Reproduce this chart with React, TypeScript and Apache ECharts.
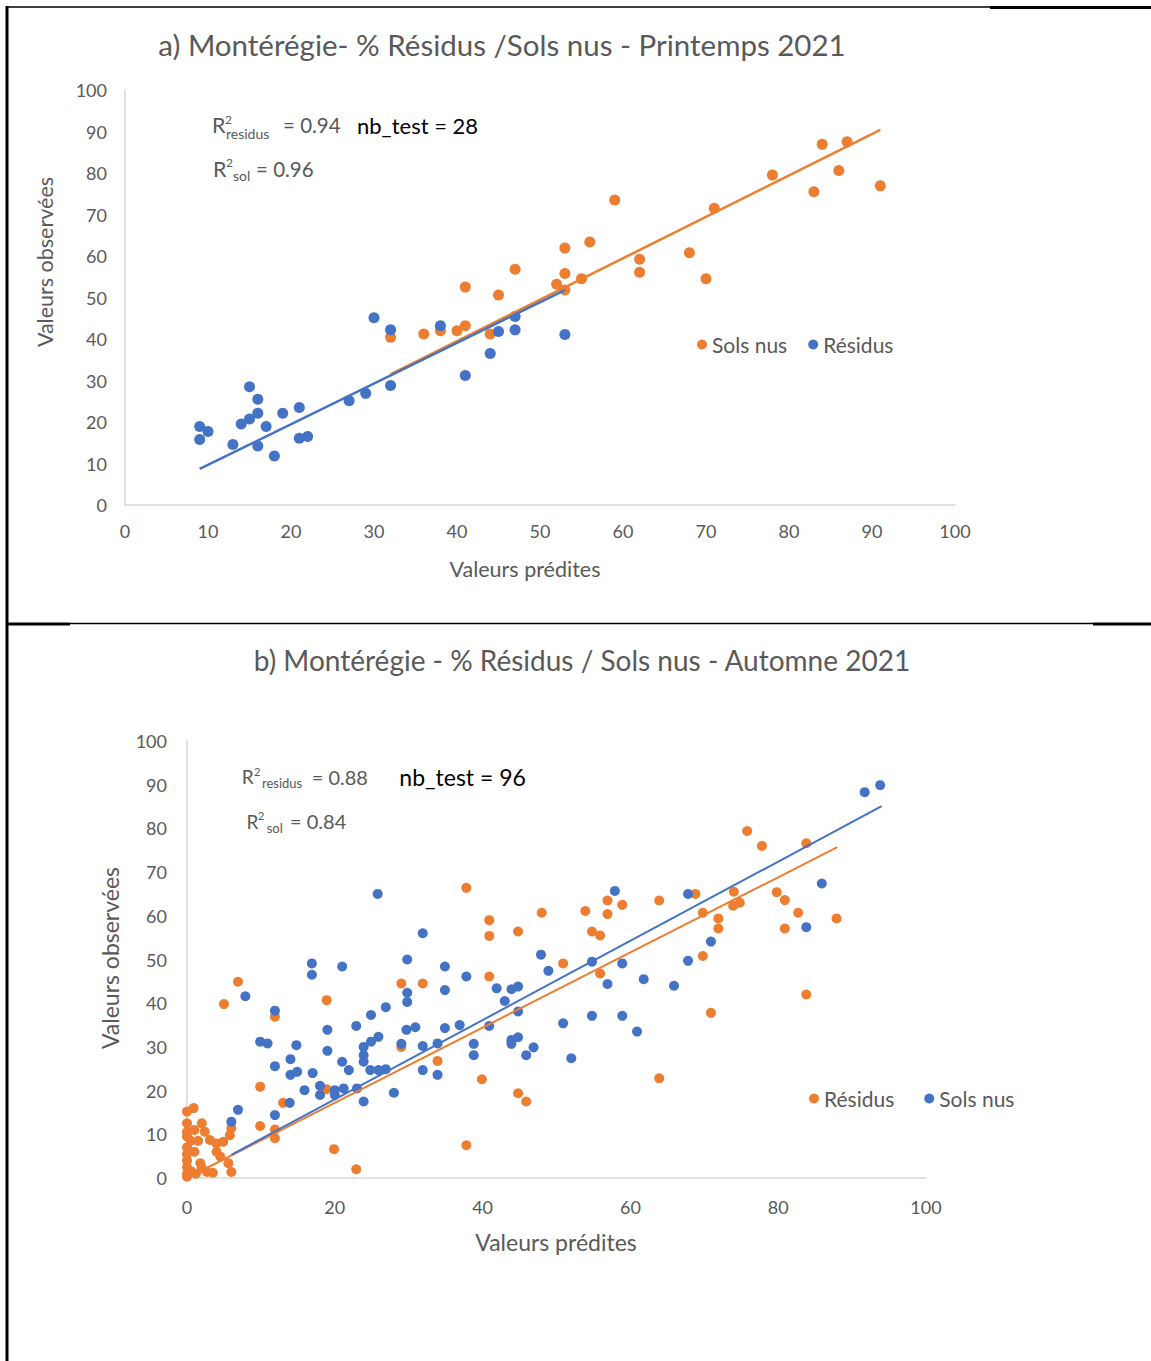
import React, { useEffect, useRef } from 'react';
import * as echarts from 'echarts';

const FONT = 'Lato, "Open Sans", sans-serif';
const GRAY = '#595959';
const ORANGE = '#ED7D31';
const BLUE = '#4472C4';

// ---- a) Printemps 2021 ----
const springSolsNus: number[][] = [
  [32, 40.4], [36, 41.2], [38, 42.0], [40, 42.0], [41, 43.2], [41, 52.5], [44, 41.2], [45, 50.6],
  [47, 56.8], [52, 53.2], [53, 61.9], [53, 55.8], [53, 51.8], [55, 54.5], [56, 63.4], [59, 73.5],
  [62, 59.2], [62, 56.1], [68, 60.8], [70, 54.5], [71, 71.5], [78, 79.5], [83, 75.5], [84, 86.9],
  [86, 80.6], [87, 87.5], [91, 76.9],
];
const springResidus: number[][] = [
  [9, 18.9], [10, 17.7], [9, 15.8], [13, 14.6], [15, 28.5], [16, 25.5], [14, 19.5], [15, 20.7],
  [16, 22.1], [17, 18.9], [16, 14.2], [18, 11.8], [19, 22.1], [21, 23.5], [21, 16.1], [22, 16.5],
  [27, 25.1], [29, 26.9], [30, 45.1], [32, 42.2], [32, 28.8], [38, 43.2], [41, 31.2], [44, 36.5],
  [45, 41.8], [47, 42.2], [47, 45.4], [53, 41.1],
];
const springSolsTrend: number[][] = [[32, 31.5], [91, 90.4]];
const springResidusTrend: number[][] = [[9, 8.7], [53, 51.8]];

// ---- b) Automne 2021 ----
const autumnResidus: number[][] = [
  [0, 15.2], [0.9, 16], [0, 12.5], [2, 12.5], [0, 10.5], [0, 9.5], [0.5, 8.5], [0, 7], [0, 5.5],
  [0, 4], [0, 2.5], [0, 1], [0, 0.3], [0.6, 1.5], [1.2, 1], [1.8, 3.4], [2.7, 1.4], [1, 6],
  [1.5, 8.5], [2.4, 10.6], [3.1, 8.7], [4, 7.9], [4.9, 8.3], [5.8, 9.8], [6, 11.4], [4, 6],
  [4.5, 4.9], [5.6, 3.4], [6, 1.4], [3.5, 1.2], [2, 2.3], [1, 11],
  [5, 39.8], [6.9, 44.9], [9.9, 20.9], [9.9, 11.9], [11.9, 11.1], [11.9, 9.1], [11.9, 36.9],
  [13, 17.2], [18.9, 40.7], [18.9, 20.3], [19.9, 6.6], [22.9, 2.0], [29, 44.5], [29, 30],
  [31.9, 44.5], [33.9, 26.8], [37.8, 66.4], [37.8, 7.5], [39.9, 22.6], [40.9, 59], [40.9, 55.4],
  [40.9, 46.1], [44.8, 56.4], [44.8, 19.4], [45.9, 17.5], [48, 60.7], [50.9, 49.1], [53.9, 61.1],
  [54.8, 56.4], [55.9, 55.5], [55.9, 46.8], [56.9, 63.5], [56.9, 60.4], [58.9, 62.5], [63.9, 63.5],
  [63.9, 22.8], [68.8, 65], [69.8, 60.7], [69.8, 50.8], [70.9, 37.8], [71.9, 59.4], [71.9, 57.1],
  [73.9, 62.3], [74, 65.5], [74.8, 63], [75.8, 79.4], [77.8, 76], [79.8, 65.4], [80.9, 63.6],
  [80.9, 57.1], [82.7, 60.7], [83.8, 76.6], [83.8, 42], [87.9, 59.4],
];
const autumnSolsNus: number[][] = [
  [6, 12.9], [6.9, 15.6], [7.9, 41.6], [9.9, 31.2], [10.9, 30.8], [11.9, 38.3], [11.9, 25.6],
  [11.9, 14.4], [13.9, 17.2], [14, 27.2], [14, 23.6], [14.8, 30.4], [14.9, 24.3], [15.9, 20.1],
  [16.9, 49.1], [16.9, 46.5], [17, 24], [18, 21.1], [18, 19], [19, 33.9], [19, 29.1], [20, 20.1],
  [20, 19], [21, 48.4], [21, 26.6], [21.2, 20.5], [21.9, 24.7], [22.9, 34.8], [23, 20.5],
  [23.9, 30], [23.9, 28.1], [23.9, 26.6], [23.9, 17.5], [24.8, 24.7], [24.9, 37.3], [24.9, 31.2],
  [25.8, 65], [25.9, 32.3], [25.9, 24.7], [26.9, 39.1], [26.9, 24.9], [28, 19.5], [29, 30.7],
  [29.8, 50], [29.8, 42.4], [29.8, 40.3], [30.9, 34.5], [29.7, 33.9], [31.9, 56], [31.9, 30.2],
  [31.9, 24.7], [33.9, 30.8], [33.9, 23.6], [34.9, 48.4], [34.9, 43], [34.9, 34.3], [36.9, 35],
  [37.8, 46.1], [38.8, 30.7], [38.8, 28.1], [40.9, 34.8], [41.9, 43.4], [43, 40.5], [43.9, 43.2],
  [43.9, 31.6], [43.9, 30.7], [44.8, 43.8], [44.8, 38.1], [44.8, 32.2], [45.9, 28.1], [46.9, 29.9],
  [47.9, 51.1], [48.9, 47.4], [50.9, 35.4], [52, 27.4], [54.8, 49.5], [54.8, 37.1], [56.9, 44.4],
  [57.9, 65.7], [58.9, 49.1], [58.9, 37.1], [60.9, 33.5], [61.8, 45.5], [65.9, 44], [67.8, 65],
  [67.8, 49.7], [70.9, 54.1], [83.8, 57.4], [85.9, 67.4], [91.7, 88.3], [93.8, 89.9],
];
const autumnResidusTrend: number[][] = [[0, 0], [88, 75.7]];
const autumnSolsTrend: number[][] = [[6, 5.3], [94, 85.1]];

const titleA = 'a) Montérégie- % Résidus /Sols nus - Printemps 2021';
const titleB = 'b) Montérégie - % Résidus / Sols nus - Automne 2021';
const xName = 'Valeurs prédites';
const yName = 'Valeurs observées';

function valueAxis(gridIndex: number, interval: number, margin: number) {
  return {
    type: 'value', gridIndex, min: 0, max: 100, interval,
    axisLine: { show: true, lineStyle: { color: '#D9D9D9', width: 1.5 } },
    axisTick: { show: false },
    splitLine: { show: false },
    axisLabel: { color: GRAY, fontSize: 18, fontFamily: FONT, margin },
  };
}

function txt(text: string, x: number, y: number, size: number, color = GRAY, align = 'left', rotation = 0) {
  return {
    type: 'text', x, y, rotation, silent: true,
    style: { text, fontSize: size, fontFamily: FONT, fill: color, align, verticalAlign: 'middle' },
  };
}

function hline(x1: number, x2: number, y: number, w: number) {
  return { type: 'line', shape: { x1, y1: y, x2, y2: y }, style: { stroke: '#000', lineWidth: w }, silent: true };
}

export default function App() {
  const ref = useRef<HTMLDivElement>(null);
  useEffect(() => {
    if (!ref.current) return;
    const chart = echarts.init(ref.current, undefined, { renderer: 'svg' });
    const scatter = (name: string, data: number[][], color: string, idx: number, size: number) => ({
      type: 'scatter', name, data, xAxisIndex: idx, yAxisIndex: idx, symbolSize: size,
      itemStyle: { color, opacity: 1 }, z: 2,
    });
    const trend = (name: string, data: number[][], color: string, idx: number, width: number) => ({
      type: 'line', name, data, xAxisIndex: idx, yAxisIndex: idx, symbol: 'none', silent: true,
      lineStyle: { color, width }, z: 3,
    });
    const legendBase = {
      icon: 'circle', itemWidth: 10, itemHeight: 10, selectedMode: false,
      textStyle: { color: GRAY, fontSize: 21, fontFamily: FONT },
      formatter: (n: string) => n.slice(3),
    };
    chart.setOption({
      animation: false,
      backgroundColor: '#fff',
      grid: [
        { left: 125, top: 90, width: 830, height: 415 },
        { left: 187, top: 741, width: 739, height: 437 },
      ],
      xAxis: [valueAxis(0, 10, 17), valueAxis(1, 20, 20)],
      yAxis: [valueAxis(0, 10, 18), valueAxis(1, 10, 20)],
      legend: [
        { ...legendBase, data: ['a: Sols nus', 'a: Résidus'], left: 692, top: 329, itemGap: 21 },
        { ...legendBase, data: ['b: Résidus', 'b: Sols nus'], left: 804, top: 1083, itemGap: 30 },
      ],
      series: [
        scatter('a: Sols nus', springSolsNus, ORANGE, 0, 11),
        scatter('a: Résidus', springResidus, BLUE, 0, 11),
        trend('a: Sols nus tendance', springSolsTrend, ORANGE, 0, 2.5),
        trend('a: Résidus tendance', springResidusTrend, BLUE, 0, 2.5),
        scatter('b: Résidus', autumnResidus, ORANGE, 1, 10),
        scatter('b: Sols nus', autumnSolsNus, BLUE, 1, 10),
        trend('b: Résidus tendance', autumnResidusTrend, ORANGE, 1, 2),
        trend('b: Sols nus tendance', autumnSolsTrend, BLUE, 1, 2),
      ],
      graphic: [
        // table borders
        { type: 'line', shape: { x1: 7, y1: 6, x2: 7, y2: 1361 }, style: { stroke: '#000', lineWidth: 3 }, silent: true },
        hline(7, 990, 7, 1.5),
        hline(990, 1151, 7.5, 3),
        hline(70, 1093, 623.5, 1.5),
        hline(7, 70, 624, 3),
        hline(1093, 1151, 624, 3),
        // titles
        txt(titleA, 502, 44, 29.5, GRAY, 'center'),
        txt(titleB, 582, 660, 28, GRAY, 'center'),
        // axis names
        txt(xName, 525, 569, 21.5, GRAY, 'center'),
        txt(yName, 45, 262, 21.5, GRAY, 'center', Math.PI / 2),
        txt(xName, 556, 1242, 23, GRAY, 'center'),
        txt(yName, 110, 958, 23, GRAY, 'center', Math.PI / 2),
        // annotations a
        txt('R', 212, 125, 21.5),
        txt('2', 225, 119.5, 12),
        txt('residus', 226, 133.5, 14),
        txt('= 0.94', 283, 125, 20.5),
        txt('nb_test = 28', 357, 125.5, 22, '#000'),
        txt('R', 213, 168.7, 21.5),
        txt('2', 226, 162.5, 12),
        txt('sol', 233, 175.5, 14),
        txt('= 0.96', 256, 168.5, 20.5),
        // annotations b
        txt('R', 241.7, 776.7, 19),
        txt('2', 254, 771, 11),
        txt('residus', 262, 783, 13),
        txt('= 0.88', 311.7, 776.7, 20),
        txt('nb_test = 96', 399.3, 776.7, 23, '#000'),
        txt('R', 246.5, 821, 19),
        txt('2', 258, 815, 11),
        txt('sol', 266.7, 827.5, 13),
        txt('= 0.84', 290, 821, 20),
      ],
    });
    return () => chart.dispose();
  }, []);
  return <div ref={ref} style={{ position: 'absolute', left: 0, top: 0, width: 1151, height: 1361 }} />;
}
